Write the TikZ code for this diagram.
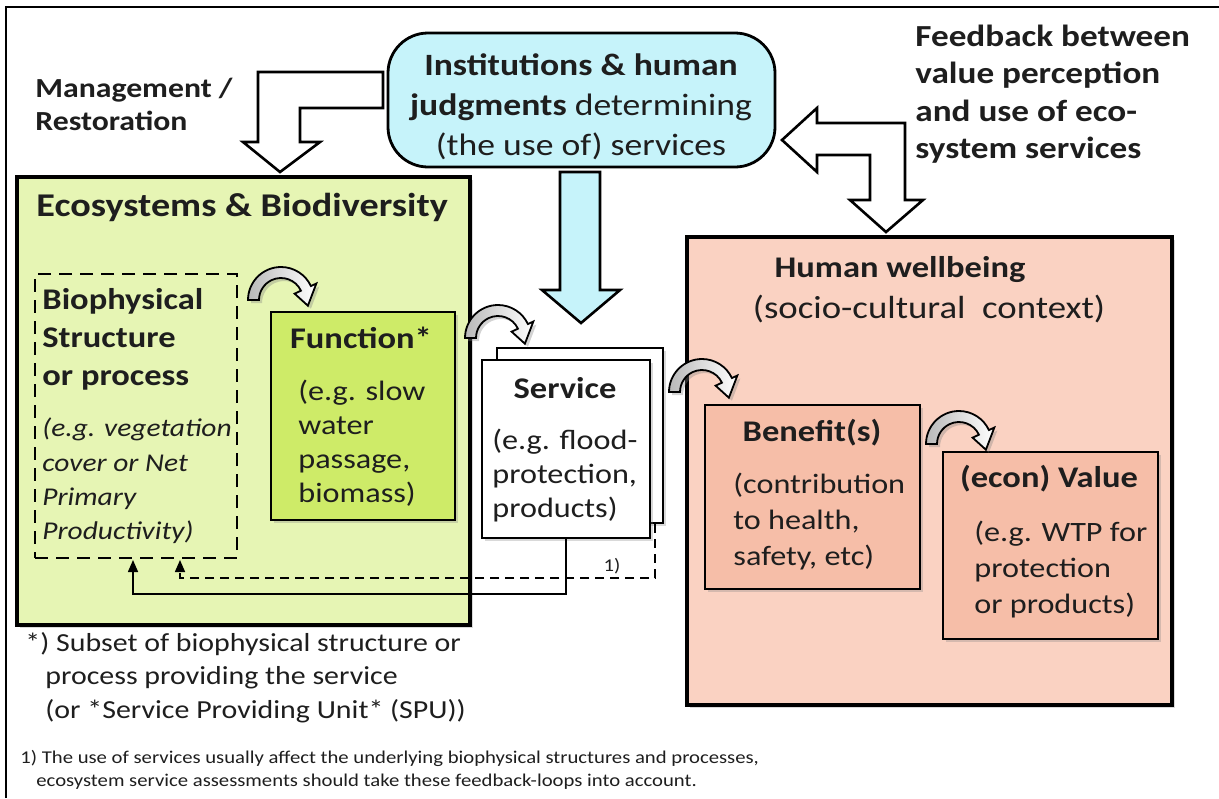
\documentclass[tikz,border=0pt]{standalone}
\usepackage{fontspec}
\setmainfont{Carlito}[FakeStretch=1.15]
\usetikzlibrary{shadows,arrows.meta,fit}
\definecolor{ecogreen}{RGB}{230,245,180}
\definecolor{fungreen}{RGB}{206,235,104}
\definecolor{instcyan}{RGB}{198,243,250}
\definecolor{hwpink}{RGB}{250,210,194}
\definecolor{bvpink}{RGB}{246,190,168}
\definecolor{txt}{RGB}{30,30,30}
\tikzset{
  box/.style={draw=black, line width=1.2pt, inner sep=0pt},
  hdr/.style={font=\fontsize{15}{18}\selectfont\bfseries, text=txt, inner sep=0pt},
  body/.style={font=\fontsize{14}{17}\selectfont, text=txt, align=left, inner sep=0pt},
  fatarrow/.style={draw=black, line width=1.3pt, line join=miter},
  conn/.style={draw=black, line width=0.8pt, -{Triangle[length=6pt,width=5pt]}},
  softshadow/.style={drop shadow={opacity=0.3, shadow xshift=1.5pt, shadow yshift=-1.5pt}},
  curvarr/.pic={
    \path[draw=black, line width=0.9pt, left color=gray!55, right color=white,
          drop shadow={opacity=0.35, shadow xshift=1.5pt, shadow yshift=-1.5pt}]
      (180:33) arc[start angle=180, end angle=25, radius=33]
      -- (25:39) -- (-12:27.5) -- (25:15) -- (25:22)
      arc[start angle=25, end angle=180, radius=22] -- cycle;
  }
}
\begin{document}
\begin{tikzpicture}[x=0.5pt, y=-0.5pt]
\useasboundingbox (0,0) rectangle (1219,798);
% outer frame
\draw[line width=1pt] (6,798) -- (6,7) -- (1219,7);

% ---- boxes ----
\node[box, line width=1.6pt, fill=ecogreen, softshadow, fit={(17,177) (470,625)}] (eco) {};
\node[box, line width=1.4pt, dash pattern=on 6.5pt off 4pt, fit={(35,274) (237,558)}] (biobox) {};
\node[box, fill=fungreen, softshadow, fit={(271,312) (455,520)}] (func) {};
\node[box, fill=white, softshadow, fit={(497,348) (663,523)}] (svcback) {};
\node[box, fill=white, softshadow, fit={(482,360) (650,538)}] (svc) {};
\node[box, line width=1.6pt, fill=hwpink, softshadow, fit={(687,237) (1172,705)}] (hw) {};
\node[box, fill=bvpink, softshadow, fit={(705,405) (920,589)}] (ben) {};
\node[box, fill=bvpink, softshadow, fit={(943,452) (1158,639)}] (val) {};
\node[box, line width=1.4pt, fill=instcyan, rounded corners=20pt, fit={(388,33) (775,167)}] (inst) {};

% ---- fat arrows ----
\path[fatarrow, fill=white] (383,72) -- (258,72) -- (258,142) -- (243,142) -- (280,172)
   -- (320,142) -- (300,142) -- (300,108) -- (383,108) -- cycle;
\path[fatarrow, fill=white] (782,140) -- (817,108) -- (817,123) -- (905,123) -- (905,200)
   -- (923,200) -- (886,232) -- (850,200) -- (870,200) -- (870,155) -- (817,155)
   -- (817,172) -- cycle;
\path[fatarrow, fill=instcyan] (560,172) -- (600,172) -- (600,290) -- (620,290)
   -- (581,323) -- (542,290) -- (560,290) -- cycle;

% ---- curved arrows ----
\pic[yscale=-1] at (281,300) {curvarr};
\pic[yscale=-1] at (498,338) {curvarr};
\pic[yscale=-1] at (702,392) {curvarr};
\pic[yscale=-1] at (959,444) {curvarr};

% ---- feedback connectors ----
\coordinate (fbA) at (133,560);
\coordinate (fbB) at (180,560);
\coordinate (dStart) at (655,524);
\draw[conn] (svc.south) -- ++(0,55) -| (fbA);
\draw[conn, dash pattern=on 4.5pt off 3pt] (dStart) -- ++(0,54) -| (fbB);
\node[font=\fontsize{9}{10}\selectfont, text=txt, inner sep=0pt] (lbl1) at (612,566) {1)};

% ---- texts ----
\node[font=\fontsize{13.8}{15.5}\selectfont\bfseries, text=txt, align=left, anchor=west, inner sep=0pt] (mgmt) at (35,104)
  {Management /\\[1pt]Restoration};
\node[font=\fontsize{15.3}{18.7}\selectfont\bfseries, text=txt, align=left, anchor=west, inner sep=0pt] (fbtxt) at (915,94)
  {Feedback between\\value perception\\and use of eco-\\system services};
\node[font=\fontsize{15.5}{20}\selectfont, text=txt, align=center, inner sep=0pt] (instt) at (581,107)
  {\textbf{Institutions \& human}\\\textbf{judgments} determining\\(the use of) services};

\node[hdr, anchor=west, font=\fontsize{16.6}{19}\selectfont\bfseries] (ecot) at (36,207) {Ecosystems \& Biodiversity};
\node[hdr, align=left, anchor=west, font=\fontsize{15}{19}\selectfont\bfseries] (biot) at (42,339)
  {Biophysical\\Structure\\or process};
\node[body, anchor=west, font=\fontsize{12.8}{17.2}\selectfont\itshape] (bioe) at (42,481)
  {(e.g. vegetation\\cover or Net\\Primary\\Productivity)};

\node[hdr] (funct) at (361,338) {Function*};
\node[body, anchor=west] (funce) at (298,443) {(e.g. slow\\water\\passage,\\biomass)};

\node[hdr] (svct) at (565,388) {Service};
\node[body, anchor=west] (svce) at (492,476) {(e.g. flood-\\protection,\\products)};

\node[font=\fontsize{15}{18}\selectfont\bfseries, text=txt, inner sep=0pt] (hwt) at (900,270) {Human wellbeing};
\node[font=\fontsize{16}{18}\selectfont, text=txt, inner sep=0pt] (hwe) at (929,309) {(socio-cultural\ \ context)};

\node[hdr] (bent) at (812,433) {Benefit(s)};
\node[body, anchor=west, font=\fontsize{14}{18}\selectfont] (bene) at (733,522) {(contribution\\to health,\\safety, etc)};

\node[hdr] (valt) at (1049,479) {(econ) Value};
\node[body, anchor=west, font=\fontsize{14}{18}\selectfont] (vale) at (974,570) {(e.g. WTP for\\protection\\or products)};

\node[body, anchor=north west, font=\fontsize{13}{16.7}\selectfont] (star) at (25,632)
  {*) Subset of biophysical structure or\\\hspace*{10pt}process providing the service\\\hspace*{10pt}(or *Service Providing Unit* (SPU))};
\node[body, anchor=north west, font=\fontsize{9}{11.5}\selectfont] (fn1) at (20,750)
  {1) The use of services usually affect the underlying biophysical structures and processes,\\\hspace*{8pt}ecosystem service assessments should take these feedback-loops into account.};
\end{tikzpicture}
\end{document}
